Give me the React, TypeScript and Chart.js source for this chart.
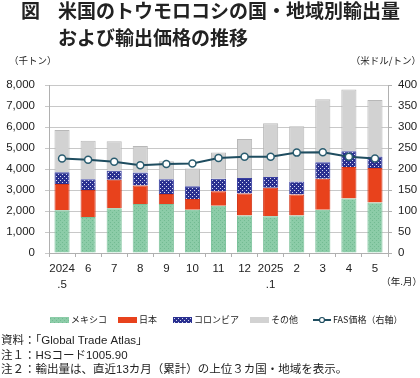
import React, { useEffect, useRef } from "react";
import { Chart, registerables } from "chart.js";

Chart.register(...registerables);

const categories: (string | string[])[] = [["2024", ".5"], "6", "7", "8", "9", "10", "11", "12", ["2025", ".1"], "2", "3", "4", "5"];
const mexico = [2030, 1710, 2130, 2330, 2330, 2060, 2250, 1780, 1750, 1780, 2060, 2600, 2410];
const japan = [1260, 1290, 1360, 880, 480, 510, 690, 1050, 1360, 1010, 1480, 1500, 1640];
const colombia = [550, 510, 430, 620, 700, 610, 600, 740, 510, 620, 780, 740, 540];
const others = [2020, 1840, 1400, 1270, 860, 840, 1250, 1860, 2560, 2620, 3000, 2950, 2700];
const fasPrice = [225, 222, 217, 209, 212, 213, 226, 229, 229, 239, 240, 229, 225];

const seriesNames = ["メキシコ", "日本", "コロンビア", "その他", "FAS価格（右軸）"];
const titleLines = ["米国のトウモロコシの国・地域別輸出量", "および輸出価格の推移"];
const notes = ["資料：「Global Trade Atlas」", "注１：HSコード1005.90", "注２：輸出量は、直近13カ月（累計）の上位３カ国・地域を表示。"];

const FONT = '"Liberation Sans", "Noto Sans CJK JP", sans-serif';
const JP = '"Noto Sans CJK JP", sans-serif';

function makePattern(bg: string, dot: string, pts: number[][], size: number) {
  const c = document.createElement("canvas");
  c.width = size;
  c.height = size;
  const g = c.getContext("2d")!;
  g.fillStyle = bg;
  g.fillRect(0, 0, size, size);
  g.fillStyle = dot;
  pts.forEach(([x, y]) => g.fillRect(x, y, 1, 1));
  const ctx = document.createElement("canvas").getContext("2d")!;
  return ctx.createPattern(c, "repeat")!;
}

export default function App() {
  const ref = useRef<HTMLCanvasElement>(null);
  useEffect(() => {
    const green = makePattern("#8ccca8", "#72bb92", [[0, 0], [2, 2]], 4);
    const blue = makePattern("#2a3090", "#d8dcf2", [[0, 0], [2, 2]], 4);
    const RED = "#e8421c";
    const GRAY = "#d2d2d2";
    const LINE = "#1f4d60";

    const textPlugin = {
      id: "texts",
      afterDraw(chart: any) {
        const ctx = chart.ctx as CanvasRenderingContext2D;
        ctx.save();
        ctx.fillStyle = "#222";
        ctx.textBaseline = "middle";
        ctx.textAlign = "left";
        ctx.font = `bold 19px ${JP}`;
        ctx.fillText("図", 21, 11);
        ctx.fillText(titleLines[0], 58, 11);
        ctx.fillText(titleLines[1], 58, 37.5);

        ctx.font = `9.5px ${JP}`;
        ctx.fillText("（千トン）", 9, 60);
        ctx.textAlign = "right";
        ctx.fillText("（米ドル/トン）", 421, 60);
        ctx.fillText("（年.月）", 422, 281);

        // legend
        ctx.textAlign = "left";
        ctx.font = `9px ${JP}`;
        const ly = 320;
        const sw = [
          { x: 50, fill: green, stroke: "#72bb92" },
          { x: 118, fill: RED, stroke: "#c93414" },
          { x: 173, fill: blue, stroke: "#2a3090" },
          { x: 250, fill: GRAY, stroke: "#b5b5b5" },
        ];
        sw.forEach((s, i) => {
          ctx.fillStyle = s.fill as any;
          ctx.fillRect(s.x, ly - 3, 19, 6);
          ctx.fillStyle = "#222";
          ctx.fillText(seriesNames[i], s.x + 21, ly);
        });
        ctx.strokeStyle = LINE;
        ctx.lineWidth = 2;
        ctx.beginPath();
        ctx.moveTo(313, ly);
        ctx.lineTo(331, ly);
        ctx.stroke();
        ctx.beginPath();
        ctx.arc(322, ly, 2.5, 0, Math.PI * 2);
        ctx.fillStyle = "#fff";
        ctx.fill();
        ctx.lineWidth = 1.2;
        ctx.stroke();
        ctx.fillStyle = "#222";
        ctx.fillText(seriesNames[4], 333, ly);

        ctx.font = `11.5px ${FONT}`;
        ctx.fillText(notes[0], 1, 341);
        ctx.fillText(notes[1], 1, 355.5);
        ctx.fillText(notes[2], 1, 370);
        ctx.restore();
      },
    };

    const chart = new Chart(ref.current!, {
      type: "bar",
      data: {
        labels: categories as any,
        datasets: [
          { type: "line", label: seriesNames[4], data: fasPrice, yAxisID: "y1", borderColor: LINE, borderWidth: 2, pointRadius: 3.5, pointBackgroundColor: "#fff", pointBorderColor: "#2b5d70", pointBorderWidth: 1.5, order: 0, tension: 0 } as any,
          { label: seriesNames[0], data: mexico, backgroundColor: green as any, borderColor: "#79c199", borderWidth: 1, yAxisID: "y", order: 1 },
          { label: seriesNames[1], data: japan, backgroundColor: RED, borderColor: "#d2361a", borderWidth: 1, yAxisID: "y", order: 1 },
          { label: seriesNames[2], data: colombia, backgroundColor: blue as any, borderColor: "#3a40a0", borderWidth: 1, yAxisID: "y", order: 1 },
          { label: seriesNames[3], data: others, backgroundColor: GRAY, borderColor: "#b8b8b8", borderWidth: 1, yAxisID: "y", order: 1 },
        ],
      },
      options: {
        responsive: false,
        animation: false,
        devicePixelRatio: 1,
        layout: { padding: { top: 85, left: 0, right: 0, bottom: 0 } },
        datasets: { bar: { barPercentage: 0.58, categoryPercentage: 1 } },
        plugins: { legend: { display: false }, tooltip: { enabled: false }, title: { display: false } },
        scales: {
          x: {
            stacked: true,
            offset: true,
            grid: { display: true, drawOnChartArea: false, drawTicks: true, tickLength: 4, color: "#b0b0b0", offset: true },
            border: { color: "#b0b0b0" },
            ticks: { font: { family: FONT, size: 11.5, lineHeight: 1.45 }, color: "#222", padding: 3, maxRotation: 0, autoSkip: false },
            afterFit: (s: any) => { s.height = 125; },
          },
          y: {
            position: "left",
            stacked: true,
            min: 0,
            max: 8000,
            ticks: { stepSize: 1000, padding: 10, color: "#222", font: { family: FONT, size: 11.5 }, callback: (v: any) => Number(v).toLocaleString("en-US") },
            grid: { color: "#c8c8c8", tickLength: 4, drawTicks: true },
            border: { color: "#b0b0b0" },
            afterFit: (s: any) => { s.width = 49; },
          },
          y1: {
            position: "right",
            min: 0,
            max: 400,
            ticks: { stepSize: 50, padding: 6, color: "#222", font: { family: FONT, size: 11.5 } },
            grid: { drawOnChartArea: false, tickLength: 4, drawTicks: true, color: "#b0b0b0" },
            border: { color: "#b0b0b0" },
            afterFit: (s: any) => { s.width = 32; },
          },
        },
      } as any,
      plugins: [textPlugin],
    });
    return () => chart.destroy();
  }, []);

  return (
    <div style={{ position: "absolute", left: 0, top: 0, width: 420, height: 378, background: "#fff" }}>
      <canvas ref={ref} width={420} height={378} style={{ width: 420, height: 378, display: "block" }} />
    </div>
  );
}
